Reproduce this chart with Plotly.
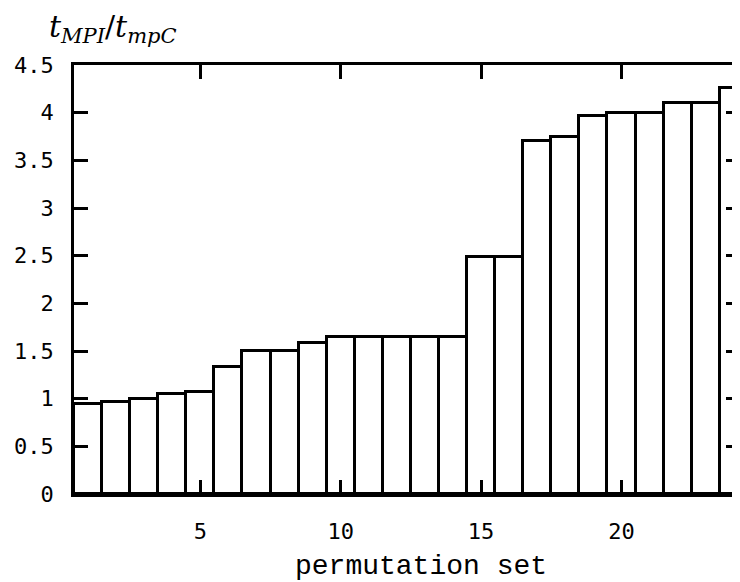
import plotly.graph_objects as go

categories = list(range(1, 25))
values = [0.94, 0.96, 1.0, 1.045, 1.065, 1.335, 1.5, 1.5, 1.585, 1.65, 1.65, 1.65,
          1.65, 1.65, 2.49, 2.49, 3.70, 3.745, 3.96, 4.0, 4.0, 4.105, 4.105, 4.255]
x_ticks = [5, 10, 15, 20]
y_ticks = [0, 0.5, 1, 1.5, 2, 2.5, 3, 3.5, 4, 4.5]
y_tick_labels = ["0", "0.5", "1", "1.5", "2", "2.5", "3", "3.5", "4", "4.5"]

fig = go.Figure()
fig.add_trace(go.Bar(x=categories, y=values, width=1,
                     marker=dict(color="white", line=dict(color="black", width=3)),
                     hoverinfo="x+y"))
fig.add_trace(go.Scatter(x=categories, y=values, yaxis="y2", mode="markers",
                         marker=dict(opacity=0), hoverinfo="skip", showlegend=False))

tickfont = dict(family="DejaVu Sans Mono", size=22, color="black")
# the page body has an 8px margin, so the plot is placed 8px up and left
fig.update_layout(
    width=740, height=582,
    margin=dict(l=66, r=8, t=57, b=96, autoexpand=False),
    paper_bgcolor="white", plot_bgcolor="white",
    showlegend=False, bargap=0,
    xaxis=dict(range=[0.5, 24.22], tickvals=x_ticks, ticktext=[str(v) for v in x_ticks],
               ticks="inside", ticklen=14, tickwidth=2.5, tickcolor="black",
               showline=True, linecolor="black", linewidth=2.5, mirror="ticks",
               showgrid=False, zeroline=False, tickfont=tickfont,
               ticklabelstandoff=16, automargin=False),
    yaxis=dict(range=[0, 4.5], tickvals=y_ticks, ticktext=y_tick_labels,
               ticks="inside", ticklen=14, tickwidth=2.5, tickcolor="black",
               showline=True, linecolor="black", linewidth=2.5,
               showgrid=False, zeroline=False, tickfont=tickfont,
               ticklabelstandoff=13, automargin=False),
    yaxis2=dict(range=[0, 4.5], tickvals=y_ticks, overlaying="y", side="right",
                anchor="x", ticks="inside", ticklen=14, tickwidth=2.5, tickcolor="black",
                showline=False, showgrid=False, zeroline=False, showticklabels=False,
                automargin=False),
    annotations=[
        dict(text="permutation set", xref="paper", yref="paper", x=0.521, y=-0.168,
             xanchor="center", yanchor="middle", showarrow=False,
             font=dict(family="Liberation Mono", size=28, color="black")),
        dict(text="<i>t</i><sub><i>MPI</i></sub>/<i>t</i><sub><i>mpC</i></sub>",
             xref="paper", yref="paper", x=-0.041, y=1.085,
             xanchor="left", yanchor="middle", showarrow=False,
             font=dict(family="DejaVu Serif", size=30, color="black")),
    ],
)

fig.write_html("out.html")
